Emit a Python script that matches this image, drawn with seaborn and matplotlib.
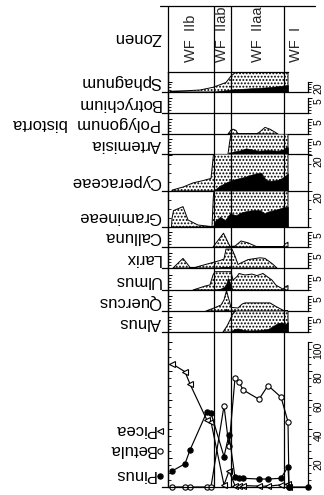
import matplotlib
matplotlib.use("Agg")
import matplotlib.pyplot as plt
from matplotlib.lines import Line2D
import numpy as np
import seaborn as sns

# ---------------------------------------------------------------- data
# depth along the section (cm), zone boundaries and names
zone_edges = [0, 46, 63, 116, 140]
zone_labels = ["WF  IIb", "WF  IIab", "WF  IIaa", "WF  I"]

# main tree pollen curves (%)
curve_depth = [4, 17, 22, 39, 43, 56, 61, 67, 71, 75, 91, 100, 113, 120, 121]
betula = [0, 0, 0, 0, 0, 56, 28, 75, 72.6, 67, 60.5, 70, 62, 45, 0]
picea = [85, 79.5, 71, 46, 45, 1.4, 11, 1, 1, 1, 0.6, 0.6, 1.5, 2, 0]
pinus_depth = [4, 17, 22, 39, 43, 56, 61, 67, 71, 75, 91, 100, 113, 120, 121, 140]
pinus = [11, 16, 25.5, 52, 51, 21, 36, 6.7, 6.4, 6, 5.5, 5.5, 6, 14, 0, 0]

# silhouettes: *_x = exaggerated outline (dotted), plain = values (black)
sphagnum_xd = [2, 19, 32, 45, 58, 63, 68, 120]
sphagnum_x = [1.5, 2.6, 4.0, 9.4, 19, 32, 40, 40]
sphagnum_d = [44, 65, 82, 99, 112, 119, 120]
sphagnum = [0, 5.4, 7.4, 9.4, 12, 14, 14]

botrychium_xd = [0, 120]
botrychium_x = [0, 0]
botrychium_d = [0, 120]
botrychium = [0, 0]

polygonum_xd = [60, 63, 65, 68, 70, 88, 91, 97, 102, 107, 110]
polygonum_x = [0, 1.3, 1.6, 1.2, 0, 0, 0.5, 2.2, 1.6, 0.6, 0]
polygonum_d = [60, 120]
polygonum = [0, 0]

artemisia_xd = [60, 61.5, 63, 120]
artemisia_x = [0, 3.7, 6.67, 6.67]
artemisia_d = [60, 66, 72, 78, 83, 90, 100, 110, 116, 118, 120]
artemisia = [0, 0.9, 1.2, 1.9, 1.6, 1.1, 1.3, 1.1, 1.6, 2.4, 2.2]

cyperaceae_xd = [4, 15, 25, 35, 43, 44.5, 45.5, 120]
cyperaceae_x = [0.5, 2.2, 4.5, 5.8, 7.0, 15, 20.6, 20.6]
cyperaceae_d = [45, 52, 59, 64, 70, 77, 80, 88, 93, 98, 103, 109, 113, 117, 120]
cyperaceae = [0, 3.0, 5.0, 6.1, 7.0, 7.9, 8.6, 9.8, 10.2, 6.1, 5.7, 6.1, 7.0, 8.3, 9.8]

gramineae_xd = [3.5, 4, 5.5, 15, 20, 30, 44, 45.3, 46, 120]
gramineae_x = [0, 4.8, 9.1, 11.3, 3.9, 1.1, 0.2, 16.7, 20, 20]
gramineae_d = [45, 47, 52, 57, 62, 68, 74, 80, 86, 92, 97, 100, 106, 111, 116, 120]
gramineae = [0, 3.3, 5.7, 3.9, 7.5, 6.6, 8.3, 9.0, 9.4, 9.3, 7.6, 8.6, 9.4, 10.2, 11.1, 11.1]

calluna_xd = [45, 55.5, 62, 67, 73, 80, 88, 115, 117, 120]
calluna_x = [0, 4.6, 0.2, 0.3, 2.0, 1.4, 0.2, 0, 1.0, 1.6]
calluna_d = [59, 61, 63]
calluna = [0, 0.6, 0]

larix_xd = [5, 15, 22, 27, 52, 56, 58, 64, 67, 70, 80, 92, 97, 104, 109]
larix_x = [0, 3.2, 0.2, 0.2, 2.5, 3.0, 6.3, 6.3, 4.0, 1.2, 2.8, 3.4, 3.2, 1.5, 0]
larix_d = [50, 54, 62, 64]
larix = [0, 0.4, 0.4, 0]

ulmus_xd = [25, 37, 42, 45, 47, 63, 65, 69, 71, 77, 84, 89, 95, 99, 104, 108, 115, 118, 120]
ulmus_x = [0, 1.3, 1.7, 5.0, 6.1, 6.1, 3.3, 4.5, 5.5, 5.0, 5.3, 4.8, 5.5, 4.5, 3.3, 1.6, 0.3, 1.2, 1.5]
ulmus_d = [45, 52, 56, 58, 60, 62, 64, 66]
ulmus = [0, 0.4, 1.0, 2.0, 4.0, 2.5, 0.5, 0]

quercus_xd = [38, 46, 53, 56, 58.5, 61, 63, 70, 74, 77, 102, 108, 116, 120]
quercus_x = [0, 1.0, 2.0, 3.7, 6.8, 3.7, 1.2, 1.0, 2.3, 2.7, 2.7, 1.5, 0.1, 0]
quercus_d = [56, 58, 60]
quercus = [0, 0.8, 0]

alnus_xd = [55, 59, 62, 65, 68, 120]
alnus_x = [0, 2.0, 4.0, 6.3, 7, 7]
alnus_d = [62, 66, 70, 74, 80, 90, 100, 106, 110, 114, 117, 120]
alnus = [0, 1.0, 1.2, 0.8, 0.5, 0.6, 1.0, 2.2, 3.0, 3.2, 2.6, 3.3]

# ---------------------------------------------------------------- style
sns.set_theme(style="white", rc={
    "axes.edgecolor": "black", "axes.linewidth": 0.9,
    "xtick.color": "black", "ytick.color": "black",
    "hatch.linewidth": 0.9,
})
plt.rcParams["font.family"] = ["Liberation Sans", "DejaVu Sans"]

W, H = 324, 495
fig = plt.figure(figsize=(W / 100, H / 100), dpi=100)
fig.patch.set_facecolor("white")


def box(top, bottom, left=162, right=308):
    return [left / W, 1 - bottom / H, (right - left) / W, (bottom - top) / H]


def fxy(x, y):
    return x / W, 1 - y / H


def scale_axes(ax, ymax, scale_top, step, majors, labels):
    """Inward ticks on the left edge, outward scale bar on the right."""
    minors = [v for v in np.arange(0, scale_top + 1e-6, step) if v not in majors]
    ax.set_xlim(-6, 140)
    ax.set_ylim(0, ymax)
    ax.set_xticks([])
    ax.spines["top"].set_visible(False)
    ax.spines["right"].set_visible(False)
    ax.spines["left"].set_position(("data", 0))
    ax.set_yticks(majors)
    ax.set_yticks(minors, minor=True)
    ax.tick_params(axis="y", which="major", direction="in", length=3,
                   width=0.7, labelleft=False)
    ax.tick_params(axis="y", which="minor", direction="in", length=1.8,
                   width=0.6)
    ax2 = ax.twinx()
    ax2.set_ylim(0, ymax)
    for s in ("left", "top", "bottom"):
        ax2.spines[s].set_visible(False)
    ax2.spines["right"].set_bounds(0, scale_top)
    ax2.set_yticks(majors)
    ax2.set_yticklabels(labels)
    ax2.set_yticks(minors, minor=True)
    ax2.tick_params(axis="y", which="major", direction="out", length=3,
                    width=0.7, pad=1, labelsize=7.5, labelrotation=90)
    ax2.tick_params(axis="y", which="minor", direction="out", length=1.8,
                    width=0.6)
    for lab in ax2.get_yticklabels():
        lab.set_va("top")
    return ax2


strips = [
    # name, top px, bottom px, ymax, scale top, step, outline, values
    ("Sphagnum", 72, 92, 40, 20, 5, sphagnum_xd, sphagnum_x, sphagnum_d, sphagnum),
    ("Botrychium", 92, 113, 7, 5, 1, botrychium_xd, botrychium_x, botrychium_d, botrychium),
    ("Polygonum  bistorta", 113, 134, 7, 5, 1, polygonum_xd, polygonum_x, polygonum_d, polygonum),
    ("Artemisia", 134, 154, 6.67, 5, 1, artemisia_xd, artemisia_x, artemisia_d, artemisia),
    ("Cyperaceae", 154, 191, 20.6, 20, 5, cyperaceae_xd, cyperaceae_x, cyperaceae_d, cyperaceae),
    ("Gramineae", 191, 227, 20, 20, 5, gramineae_xd, gramineae_x, gramineae_d, gramineae),
    ("Calluna", 227, 247, 6.67, 5, 1, calluna_xd, calluna_x, calluna_d, calluna),
    ("Larix", 247, 268, 7, 5, 1, larix_xd, larix_x, larix_d, larix),
    ("Ulmus", 268, 290, 7.33, 5, 1, ulmus_xd, ulmus_x, ulmus_d, ulmus),
    ("Quercus", 290, 311, 7, 5, 1, quercus_xd, quercus_x, quercus_d, quercus),
    ("Alnus", 311, 332, 7, 5, 1, alnus_xd, alnus_x, alnus_d, alnus),
]

label_kw = dict(rotation=180, rotation_mode="anchor", ha="left", va="top",
                fontsize=12, color="black")

for i, (name, top, bottom, ymax, stop, step, xd, xv, vd, vv) in enumerate(strips):
    ax = fig.add_axes(box(top, bottom))
    ax.patch.set_visible(False)
    ax.fill_between(xd, 0, xv, facecolor="white", edgecolor="black",
                    hatch=".....", linewidth=0.7, zorder=2)
    ax.fill_between(vd, 0, vv, facecolor="black", edgecolor="black",
                    linewidth=0.4, zorder=3)
    scale_axes(ax, ymax, stop, step, [stop], [str(stop)])
    if i == 0:
        ax.spines["top"].set_visible(True)
        ax.spines["top"].set_bounds(0, 120)
    fig.text(*fxy(161, bottom - 2.5), name, **label_kw)

# ---------------------------------------------------------------- tree curves
axp = fig.add_axes(box(332, 487))
axp.patch.set_visible(False)
line_kw = dict(color="black", linewidth=0.85, markersize=3.8,
               markeredgecolor="black", markeredgewidth=0.8,
               estimator=None, sort=False, legend=False, clip_on=False)
sns.lineplot(x=curve_depth, y=picea, ax=axp, marker="<",
             markerfacecolor="white", **line_kw)
sns.lineplot(x=curve_depth, y=betula, ax=axp, marker="o",
             markerfacecolor="white", **line_kw)
sns.lineplot(x=pinus_depth, y=pinus, ax=axp, marker="o",
             markerfacecolor="black", **line_kw)
scale_axes(axp, 106.9, 100, 5, [20, 40, 60, 80, 100],
           ["20", "40", "60", "80", "100"])

# legend
legend_rows = [("Pinus", 482.5, 476, "o", "black"),
               ("Betula", 457, 450.5, "o", "white"),
               ("Picea", 437, 431, "<", "white")]
for name, ytxt, ymark, mk, fc in legend_rows:
    fig.text(*fxy(155.5, ytxt), name, **label_kw)
    fx, fy = fxy(159.5, ymark)
    fig.add_artist(Line2D([fx], [fy], transform=fig.transFigure, marker=mk,
                          markersize=3.8, markerfacecolor=fc,
                          markeredgecolor="black", markeredgewidth=0.8,
                          linestyle="none"))

# ---------------------------------------------------------------- zones
axz = fig.add_axes(box(6, 487))
axz.set_xlim(-6, 140)
axz.set_ylim(487, 6)
axz.axis("off")
axz.patch.set_visible(False)
axz.vlines(zone_edges[:-1], 6, 487, color="black", linewidth=0.9)
axz.plot([-8, 147], [6, 6], color="black", linewidth=0.9, clip_on=False)
for a, b, lab in zip(zone_edges[:-1], zone_edges[1:], zone_labels):
    axz.text((a + b) / 2, 62, lab, rotation=90, ha="center", va="bottom",
             fontsize=10.5)
fig.text(*fxy(161, 45), "Zonen", **label_kw)

fig.savefig("out.png", dpi=100, facecolor="white")
